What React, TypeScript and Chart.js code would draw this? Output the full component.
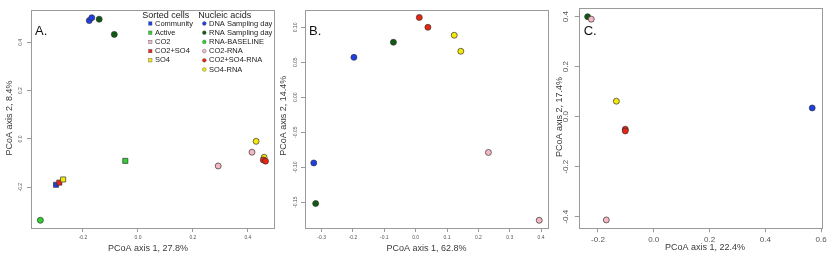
import React, { useEffect, useRef } from 'react';
import { Chart, registerables } from 'chart.js';

Chart.register(...registerables);

const FONT = '"Liberation Sans", Arial, Helvetica, sans-serif';

// ---------- colours ----------
const BLUE = '#1f3fe6';
const DARKGREEN = '#0f5a13';
const GREEN = '#2ed12e';
const PINK = '#f5b8c2';
const RED = '#ea2410';
const YELLOW = '#f4e808';

// ---------- legend ----------
const SORTED_LABELS = ['Community', 'Active', 'CO2', 'CO2+SO4', 'SO4'];
const SORTED_COLORS = [BLUE, GREEN, PINK, RED, YELLOW];
const NUCLEIC_LABELS = ['DNA Sampling day', 'RNA Sampling day', 'RNA-BASELINE', 'CO2-RNA', 'CO2+SO4-RNA', 'SO4-RNA'];
const NUCLEIC_COLORS = [BLUE, DARKGREEN, GREEN, PINK, RED, YELLOW];

// ---------- panel A ----------
const A_X_TICKS = [-0.2, 0, 0.2, 0.4];
const A_X_TICK_LABELS = ['-0.2', '0.0', '0.2', '0.4'];
const A_Y_TICKS = [-0.2, 0, 0.2, 0.4];
const A_Y_TICK_LABELS = ['-0.2', '0.0', '0.2', '0.4'];
const A_COMMUNITY = [{ x: -0.298, y: -0.19 }];
const A_ACTIVE = [{ x: -0.046, y: -0.091 }];
const A_CO2_SO4 = [{ x: -0.286, y: -0.181 }];
const A_SO4 = [{ x: -0.272, y: -0.168 }];
const A_DNA_DAY = [{ x: -0.177, y: 0.49 }, { x: -0.168, y: 0.502 }];
const A_RNA_DAY = [{ x: -0.141, y: 0.496 }, { x: -0.086, y: 0.433 }];
const A_RNA_BASELINE = [{ x: -0.355, y: -0.337 }];
const A_CO2_RNA = [{ x: 0.292, y: -0.112 }, { x: 0.415, y: -0.055 }];
const A_SO4_RNA = [{ x: 0.43, y: -0.01 }, { x: 0.459, y: -0.076 }];
const A_CO2_SO4_RNA = [{ x: 0.456, y: -0.087 }, { x: 0.464, y: -0.092 }];

// ---------- panel B ----------
const B_X_TICKS = [-0.3, -0.2, -0.1, 0, 0.1, 0.2, 0.3, 0.4];
const B_X_TICK_LABELS = ['-0.3', '-0.2', '-0.1', '0.0', '0.1', '0.2', '0.3', '0.4'];
const B_Y_TICKS = [-0.15, -0.1, -0.05, 0, 0.05, 0.1];
const B_Y_TICK_LABELS = ['-0.15', '-0.10', '-0.05', '0.00', '0.05', '0.10'];
const B_DNA_DAY = [{ x: -0.197, y: 0.057 }, { x: -0.325, y: -0.094 }];
const B_RNA_DAY = [{ x: -0.071, y: 0.0786 }, { x: -0.319, y: -0.152 }];
const B_CO2_RNA = [{ x: 0.232, y: -0.079 }, { x: 0.394, y: -0.176 }];
const B_CO2_SO4_RNA = [{ x: 0.0115, y: 0.114 }, { x: 0.039, y: 0.1 }];
const B_SO4_RNA = [{ x: 0.123, y: 0.0886 }, { x: 0.144, y: 0.0657 }];

// ---------- panel C ----------
const C_X_TICKS = [-0.2, 0, 0.2, 0.4, 0.6];
const C_X_TICK_LABELS = ['-0.2', '0.0', '0.2', '0.4', '0.6'];
const C_Y_TICKS = [-0.4, -0.2, 0, 0.2, 0.4];
const C_Y_TICK_LABELS = ['-0.4', '-0.2', '0.0', '0.2', '0.4'];
const C_RNA_DAY = [{ x: -0.237, y: 0.4 }];
const C_CO2_RNA = [{ x: -0.224, y: 0.39 }, { x: -0.17, y: -0.413 }];
const C_SO4_RNA = [{ x: -0.134, y: 0.062 }];
const C_CO2_SO4_RNA = [{ x: -0.102, y: -0.05 }, { x: -0.102, y: -0.057 }];
const C_DNA_DAY = [{ x: 0.568, y: 0.035 }];

type Series = { data: { x: number; y: number }[]; color: string; square?: boolean };

type PanelCfg = {
  letter: string;
  left: number;
  width: number;
  area: { l: number; r: number; t: number; b: number };
  xRange: [number, number];
  yRange: [number, number];
  xTicks: number[];
  xTickLabels: string[];
  yTicks: number[];
  yTickLabels: string[];
  tickFont: number;
  yTickX: number;
  xTitle: string;
  yTitle: string;
  xTitlePos: [number, number];
  yTitlePos: [number, number];
  letterPos: [number, number];
  series: Series[];
  legend?: boolean;
};

const PANELS: PanelCfg[] = [
  {
    letter: 'A.',
    left: 0,
    width: 280,
    area: { l: 31, r: 274, t: 10, b: 228 },
    xRange: [-0.389, 0.495],
    yRange: [-0.369, 0.534],
    xTicks: A_X_TICKS,
    xTickLabels: A_X_TICK_LABELS,
    yTicks: A_Y_TICKS,
    yTickLabels: A_Y_TICK_LABELS,
    tickFont: 5,
    yTickX: 20.7,
    xTitle: 'PCoA axis 1, 27.8%',
    yTitle: 'PCoA axis 2, 8.4%',
    xTitlePos: [148, 248.3],
    yTitlePos: [10, 118],
    letterPos: [35, 31],
    legend: true,
    series: [
      { data: A_DNA_DAY, color: BLUE },
      { data: A_RNA_DAY, color: DARKGREEN },
      { data: A_RNA_BASELINE, color: GREEN },
      { data: A_ACTIVE, color: GREEN, square: true },
      { data: A_COMMUNITY, color: BLUE, square: true },
      { data: A_CO2_SO4, color: RED, square: true },
      { data: A_SO4, color: YELLOW, square: true },
      { data: A_CO2_RNA, color: PINK },
      { data: A_SO4_RNA, color: YELLOW },
      { data: A_CO2_SO4_RNA, color: RED },
    ],
  },
  {
    letter: 'B.',
    left: 280,
    width: 276,
    area: { l: 25, r: 268.3, t: 10, b: 228 },
    xRange: [-0.353, 0.423],
    yRange: [-0.187, 0.1247],
    xTicks: B_X_TICKS,
    xTickLabels: B_X_TICK_LABELS,
    yTicks: B_Y_TICKS,
    yTickLabels: B_Y_TICK_LABELS,
    tickFont: 5,
    yTickX: 296,
    xTitle: 'PCoA axis 1, 62.8%',
    yTitle: 'PCoA axis 2, 14.4%',
    xTitlePos: [426.5, 248.3],
    yTitlePos: [284, 115.7],
    letterPos: [309, 31],
    series: [
      { data: B_DNA_DAY, color: BLUE },
      { data: B_RNA_DAY, color: DARKGREEN },
      { data: B_CO2_RNA, color: PINK },
      { data: B_CO2_SO4_RNA, color: RED },
      { data: B_SO4_RNA, color: YELLOW },
    ],
  },
  {
    letter: 'C.',
    left: 556,
    width: 280,
    area: { l: 22.7, r: 265.7, t: 8.3, b: 228.3 },
    xRange: [-0.269, 0.602],
    yRange: [-0.4464, 0.4336],
    xTicks: C_X_TICKS,
    xTickLabels: C_X_TICK_LABELS,
    yTicks: C_Y_TICKS,
    yTickLabels: C_Y_TICK_LABELS,
    tickFont: 8,
    yTickX: 565.5,
    xTitle: 'PCoA axis 1, 22.4%',
    yTitle: 'PCoA axis 2, 17.4%',
    xTitlePos: [705, 248],
    yTitlePos: [559.5, 117],
    letterPos: [583.7, 31],
    series: [
      { data: C_RNA_DAY, color: DARKGREEN },
      { data: C_CO2_RNA, color: PINK },
      { data: C_SO4_RNA, color: YELLOW },
      { data: C_CO2_SO4_RNA, color: RED },
      { data: C_DNA_DAY, color: BLUE },
    ],
  },
];

const BOX_COLOR = '#9a9a9a';
const TEXT_COLOR = '#3a3a3a';
const TICK_TEXT = '#555555';

function makeOverlay(cfg: PanelCfg) {
  return {
    id: 'overlay' + cfg.letter.replace('.', ''),
    afterDraw(chart: any) {
      const ctx = chart.ctx as CanvasRenderingContext2D;
      const { left, right, top, bottom } = chart.chartArea;
      const L = cfg.left;
      ctx.save();
      // box
      ctx.strokeStyle = BOX_COLOR;
      ctx.lineWidth = 1;
      ctx.strokeRect(Math.round(left) + 0.5, Math.round(top) + 0.5, Math.round(right) - Math.round(left), Math.round(bottom) - Math.round(top));
      // rotated y tick labels
      const ys = chart.scales.y;
      ctx.fillStyle = TICK_TEXT;
      ctx.font = `${cfg.tickFont}px ${FONT}`;
      ctx.textAlign = 'center';
      ctx.textBaseline = 'middle';
      cfg.yTicks.forEach((v, i) => {
        const py = ys.getPixelForValue(v);
        ctx.save();
        ctx.translate(cfg.yTickX - L, py);
        ctx.rotate(-Math.PI / 2);
        ctx.fillText(cfg.yTickLabels[i], 0, 0);
        ctx.restore();
      });
      // axis titles
      ctx.fillStyle = TEXT_COLOR;
      ctx.font = `9px ${FONT}`;
      ctx.fillText(cfg.xTitle, cfg.xTitlePos[0] - L, cfg.xTitlePos[1]);
      ctx.save();
      ctx.translate(cfg.yTitlePos[0] - L, cfg.yTitlePos[1]);
      ctx.rotate(-Math.PI / 2);
      ctx.fillText(cfg.yTitle, 0, 0);
      ctx.restore();
      // panel letter
      ctx.fillStyle = '#111';
      ctx.font = `13px ${FONT}`;
      ctx.textAlign = 'left';
      ctx.fillText(cfg.letter, cfg.letterPos[0] - L, cfg.letterPos[1]);
      // legend
      if (cfg.legend) {
        ctx.fillStyle = '#222';
        ctx.font = `9px ${FONT}`;
        ctx.textBaseline = 'middle';
        ctx.fillText('Sorted cells', 142.3 - L, 15.3);
        ctx.fillText('Nucleic acids', 198.3 - L, 15.3);
        ctx.font = `7.5px ${FONT}`;
        const step = 9.2;
        SORTED_LABELS.forEach((lab, i) => {
          const y = 23.5 + i * step;
          ctx.fillStyle = SORTED_COLORS[i];
          ctx.strokeStyle = '#555';
          ctx.lineWidth = 0.4;
          ctx.fillRect(150.3 - L - 1.7, y - 1.7, 3.4, 3.4);
          ctx.strokeRect(150.3 - L - 1.7, y - 1.7, 3.4, 3.4);
          ctx.fillStyle = '#222';
          ctx.fillText(lab, 155 - L, y);
        });
        NUCLEIC_LABELS.forEach((lab, i) => {
          const y = 23.5 + i * step;
          ctx.fillStyle = NUCLEIC_COLORS[i];
          ctx.strokeStyle = '#555';
          ctx.lineWidth = 0.4;
          ctx.beginPath();
          ctx.arc(204.3 - L, y, 1.9, 0, Math.PI * 2);
          ctx.fill();
          ctx.stroke();
          ctx.fillStyle = '#222';
          ctx.fillText(lab, 209 - L, y);
        });
      }
      ctx.restore();
    },
  };
}

function Panel({ cfg }: { cfg: PanelCfg }) {
  const ref = useRef<HTMLCanvasElement>(null);
  useEffect(() => {
    if (!ref.current) return;
    const H = 264;
    const datasets = cfg.series
      .map((s) => ({
        data: s.data,
        backgroundColor: s.color,
        borderColor: '#333',
        borderWidth: 0.7,
        pointStyle: s.square ? 'rect' : 'circle',
        pointRadius: s.square ? 3.6 : 3,
        pointHoverRadius: s.square ? 3.6 : 3,
      }))
      .reverse();
    const chart = new Chart(ref.current, {
      type: 'scatter',
      data: { datasets } as any,
      options: {
        animation: false,
        responsive: false,
        devicePixelRatio: 1,
        layout: { padding: { left: 0, top: cfg.area.t, right: cfg.width - cfg.area.r, bottom: 0 } },
        plugins: { legend: { display: false }, tooltip: { enabled: false } },
        scales: {
          x: {
            type: 'linear',
            min: cfg.xRange[0],
            max: cfg.xRange[1],
            afterBuildTicks: (scale: any) => {
              scale.ticks = cfg.xTicks.map((v) => ({ value: v }));
            },
            afterFit: (scale: any) => {
              scale.height = H - cfg.area.b;
            },
            ticks: {
              autoSkip: false,
              maxRotation: 0,
              minRotation: 0,
              padding: 3,
              color: TICK_TEXT,
              font: { family: FONT, size: cfg.tickFont },
              callback: (_v: any, i: number) => cfg.xTickLabels[i],
            },
            grid: { drawOnChartArea: false, drawTicks: true, tickLength: 4, color: BOX_COLOR },
            border: { display: false },
          },
          y: {
            type: 'linear',
            min: cfg.yRange[0],
            max: cfg.yRange[1],
            afterBuildTicks: (scale: any) => {
              scale.ticks = cfg.yTicks.map((v) => ({ value: v }));
            },
            afterFit: (scale: any) => {
              scale.width = cfg.area.l;
            },
            ticks: {
              autoSkip: false,
              color: 'rgba(0,0,0,0)',
              font: { family: FONT, size: cfg.tickFont },
              callback: (_v: any, i: number) => cfg.yTickLabels[i],
            },
            grid: { drawOnChartArea: false, drawTicks: true, tickLength: 4, color: BOX_COLOR },
            border: { display: false },
          },
        },
      } as any,
      plugins: [makeOverlay(cfg)],
    });
    return () => chart.destroy();
  }, [cfg]);
  return (
    <div style={{ position: 'absolute', left: cfg.left, top: 0, width: cfg.width, height: 264 }}>
      <canvas ref={ref} width={cfg.width} height={264} style={{ width: cfg.width, height: 264, display: 'block' }} />
    </div>
  );
}

export default function App() {
  return (
    <div style={{ position: 'fixed', left: 0, top: 0, width: 836, height: 264, background: '#ffffff', overflow: 'hidden' }}>
      {PANELS.map((p) => (
        <Panel key={p.letter} cfg={p} />
      ))}
    </div>
  );
}
